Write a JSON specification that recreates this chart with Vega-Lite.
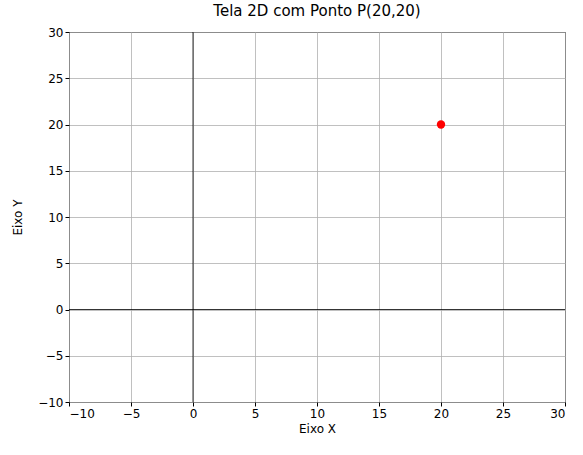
{
  "$schema": "https://vega.github.io/schema/vega-lite/v6.json",
  "autosize": "none",
  "padding": {"left": 69, "top": 32, "right": 18, "bottom": 53},
  "width": 496,
  "height": 370,
  "background": "white",
  "title": {"text": "Tela 2D com Ponto P(20,20)", "font": "DejaVu Sans", "fontSize": 15, "fontWeight": "normal", "color": "black", "offset": 7},
  "config": {
    "view": {"stroke": "black", "strokeWidth": 1},
    "axis": {
      "labelFont": "DejaVu Sans", "labelFontSize": 12, "labelColor": "black",
      "titleFont": "DejaVu Sans", "titleFontSize": 12, "titleFontWeight": "normal", "titleColor": "black",
      "grid": true, "gridColor": "#b0b0b0", "gridWidth": 0.8,
      "tickColor": "black", "tickSize": 4, "domain": false,
      "labelExpr": "replace(datum.label, '-', '−')"
    }
  },
  "datasets": {
    "punto": [{"x": 20, "y": 20}],
    "vert": [{"x": 0}],
    "horiz": [{"y": 0}]
  },
  "layer": [
    {
      "data": {"name": "vert"},
      "mark": {"type": "rule", "color": "black", "strokeWidth": 0.8},
      "encoding": {"x": {"field": "x", "type": "quantitative", "scale": {"domain": [-10, 30], "nice": false}}}
    },
    {
      "data": {"name": "horiz"},
      "mark": {"type": "rule", "color": "black", "strokeWidth": 0.8},
      "encoding": {"y": {"field": "y", "type": "quantitative", "scale": {"domain": [-10, 30], "nice": false}}}
    },
    {
      "data": {"name": "punto"},
      "mark": {"type": "point", "filled": true, "color": "red", "size": 70, "opacity": 1},
      "encoding": {
        "x": {"field": "x", "type": "quantitative", "scale": {"domain": [-10, 30], "nice": false}, "axis": {"title": "Eixo X", "values": [-10, -5, 0, 5, 10, 15, 20, 25, 30], "titlePadding": 4}},
        "y": {"field": "y", "type": "quantitative", "scale": {"domain": [-10, 30], "nice": false}, "axis": {"title": "Eixo Y", "values": [-10, -5, 0, 5, 10, 15, 20, 25, 30], "titlePadding": 13}}
      }
    }
  ]
}
